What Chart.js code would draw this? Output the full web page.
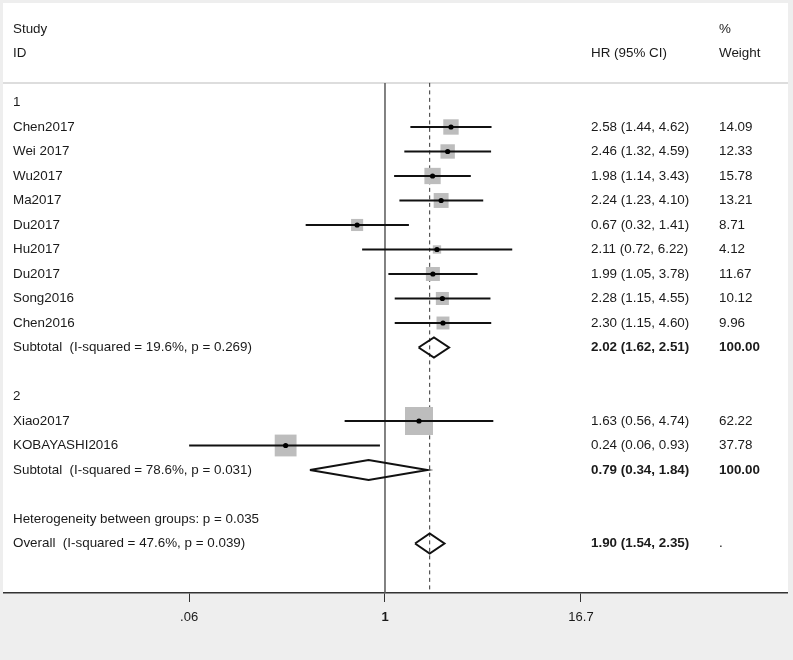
<!DOCTYPE html>
<html>
<head>
<meta charset="utf-8">
<script src="https://cdn.jsdelivr.net/npm/chart.js@4/dist/chart.umd.min.js"></script>
<style>
  html, body { margin: 0; padding: 0; background: #eeeeee; }
  canvas { display: block; }
</style>
</head>
<body>
<canvas id="forest" width="793" height="660"></canvas>
<script>
// datos del forest plot (HR con IC 95%)
const groupNames = ['1', '2'];
const studies = ['Chen2017', 'Wei 2017', 'Wu2017', 'Ma2017', 'Du2017', 'Hu2017', 'Du2017', 'Song2016', 'Chen2016', 'Xiao2017', 'KOBAYASHI2016'];
const studyGroup = [0, 0, 0, 0, 0, 0, 0, 0, 0, 1, 1];
const hr = [2.58, 2.46, 1.98, 2.24, 0.67, 2.11, 1.99, 2.28, 2.30, 1.63, 0.24];
const lower = [1.44, 1.32, 1.14, 1.23, 0.32, 0.72, 1.05, 1.15, 1.15, 0.56, 0.06];
const upper = [4.62, 4.59, 3.43, 4.10, 1.41, 6.22, 3.78, 4.55, 4.60, 4.74, 0.93];
const weight = [14.09, 12.33, 15.78, 13.21, 8.71, 4.12, 11.67, 10.12, 9.96, 62.22, 37.78];

const subHr = [2.02, 0.79];
const subLower = [1.62, 0.34];
const subUpper = [2.51, 1.84];
const subI2 = ['19.6', '78.6'];
const subP = ['0.269', '0.031'];

const overallHr = 1.90;
const overallLower = 1.54;
const overallUpper = 2.35;
const overallI2 = '47.6';
const overallP = '0.039';
const heterogeneityP = '0.035';

const xTicks = [0.06, 1, 16.7];
const xTickLabels = ['.06', '1', '16.7'];

(function() {
    const fmt = (e, l, u) => `${e.toFixed(2)} (${l.toFixed(2)}, ${u.toFixed(2)})`;

    // se arma la lista de filas (texto + marcas) en orden
    const texts = [];
    const boxes = [];
    const cis = [];
    const diamonds = [];
    // escala del cuadrado por grupo (ancho en px por raiz del peso)
    const boxScale = [4.1, 3.55];

    texts.push({ row: 0, col: 'id', text: 'Study' });
    texts.push({ row: 1, col: 'id', text: 'ID' });
    texts.push({ row: 0, col: 'w', text: '%' });
    texts.push({ row: 1, col: 'hr', text: 'HR (95% CI)' });
    texts.push({ row: 1, col: 'w', text: 'Weight' });

    let row = 3;
    groupNames.forEach((g, gi) => {
        texts.push({ row: row, col: 'id', text: g });
        row++;
        studies.forEach((s, i) => {
            if (studyGroup[i] !== gi) return;
            texts.push({ row: row, col: 'id', text: s });
            texts.push({ row: row, col: 'hr', text: fmt(hr[i], lower[i], upper[i]) });
            texts.push({ row: row, col: 'w', text: weight[i].toFixed(2) });
            boxes.push({ x: hr[i], y: row, side: boxScale[gi] * Math.sqrt(weight[i]) });
            cis.push({ lo: lower[i], hi: upper[i], y: row });
            row++;
        });
        texts.push({ row: row, col: 'id', text: `Subtotal  (I-squared = ${subI2[gi]}%, p = ${subP[gi]})` });
        texts.push({ row: row, col: 'hr', text: fmt(subHr[gi], subLower[gi], subUpper[gi]), bold: true });
        texts.push({ row: row, col: 'w', text: '100.00', bold: true });
        diamonds.push({ lo: subLower[gi], est: subHr[gi], hi: subUpper[gi], y: row });
        row += 2;
    });
    texts.push({ row: row, col: 'id', text: `Heterogeneity between groups: p = ${heterogeneityP}` });
    row++;
    texts.push({ row: row, col: 'id', text: `Overall  (I-squared = ${overallI2}%, p = ${overallP})` });
    texts.push({ row: row, col: 'hr', text: fmt(overallHr, overallLower, overallUpper), bold: true });
    texts.push({ row: row, col: 'w', text: '.' });
    diamonds.push({ lo: overallLower, est: overallHr, hi: overallUpper, y: row });

    const topRow = -1.06;
    const bottomRow = 23.02;
    const lineTop = 2.2;
    const dh = 0.41;

    const datasets = [];

    // linea nula (HR = 1) y linea del efecto global
    datasets.push({
        data: [{ x: 1, y: lineTop }, { x: 1, y: bottomRow }],
        showLine: true, borderColor: '#5a5a5a', borderWidth: 1.5, pointRadius: 0, order: 20
    });
    datasets.push({
        data: [{ x: overallHr, y: lineTop }, { x: overallHr, y: bottomRow }],
        showLine: true, borderColor: '#333333', borderWidth: 1, borderDash: [4, 3.5], pointRadius: 0, order: 20
    });

    // cuadrados grises segun el peso
    datasets.push({
        data: boxes.map(b => ({ x: b.x, y: b.y })),
        pointStyle: 'rect',
        pointRadius: boxes.map(b => b.side / Math.SQRT2),
        backgroundColor: '#bdbdbd',
        borderWidth: 0,
        order: 10
    });

    // intervalos de confianza
    cis.forEach(c => {
        datasets.push({
            data: [{ x: c.lo, y: c.y }, { x: c.hi, y: c.y }],
            showLine: true, borderColor: '#111111', borderWidth: 2, pointRadius: 0, order: 5
        });
    });

    // punto central
    datasets.push({
        data: boxes.map(b => ({ x: b.x, y: b.y })),
        pointStyle: 'circle', pointRadius: 2.6, backgroundColor: '#000000', borderWidth: 0, order: 1
    });

    // rombos de subtotales y global
    diamonds.forEach(d => {
        datasets.push({
            data: [
                { x: d.lo, y: d.y }, { x: d.est, y: d.y - dh }, { x: d.hi, y: d.y },
                { x: d.est, y: d.y + dh }, { x: d.lo, y: d.y }
            ],
            showLine: true, borderColor: '#111111', borderWidth: 2, pointRadius: 0,
            borderJoinStyle: 'miter', order: 2
        });
    });

    const colX = { id: 13, hr: 591, w: 719 };
    const font = '13.4px "Liberation Sans", Arial, sans-serif';

    const forestPlugin = {
        id: 'forestDecor',
        beforeDraw(chart) {
            const ctx = chart.ctx;
            const area = chart.chartArea;
            ctx.save();
            ctx.fillStyle = '#eeeeee';
            ctx.fillRect(0, 0, chart.width, chart.height);
            ctx.fillStyle = '#ffffff';
            ctx.fillRect(area.left - 1, area.top, area.right - area.left + 2, area.bottom - area.top);
            // separador de encabezado
            const ySep = chart.scales.y.getPixelForValue(lineTop);
            ctx.strokeStyle = '#d2d2d2';
            ctx.lineWidth = 1.5;
            ctx.beginPath();
            ctx.moveTo(area.left - 1, ySep);
            ctx.lineTo(area.right + 1, ySep);
            ctx.stroke();
            ctx.restore();
        },
        afterDraw(chart) {
            const ctx = chart.ctx;
            const ys = chart.scales.y;
            ctx.save();
            ctx.textBaseline = 'middle';
            ctx.fillStyle = '#1a1a1a';
            texts.forEach(t => {
                ctx.font = (t.bold ? 'bold ' : '') + font;
                ctx.fillText(t.text, colX[t.col], ys.getPixelForValue(t.row));
            });
            ctx.restore();
        }
    };

    new Chart(document.getElementById('forest'), {
        type: 'scatter',
        data: { datasets: datasets },
        options: {
            responsive: false,
            animation: false,
            layout: { autoPadding: false, padding: { left: 4, right: 6, top: 3, bottom: 0 } },
            plugins: { legend: { display: false }, tooltip: { enabled: false } },
            scales: {
                x: {
                    type: 'logarithmic',
                    bounds: 'data',
                    min: 0.0042,
                    max: 322,
                    afterBuildTicks: s => { s.ticks = xTicks.map(v => ({ value: v })); },
                    afterFit: s => { s.height = 67; },
                    grid: { display: true, drawOnChartArea: false, drawTicks: true, tickLength: 9, color: '#333333', lineWidth: 1 },
                    border: { display: true, color: '#333333', width: 1.5 },
                    ticks: {
                        padding: 8,
                        color: '#1a1a1a',
                        maxRotation: 0,
                        autoSkip: false,
                        font: c => ({ family: '"Liberation Sans", Arial, sans-serif', size: 13, weight: (c.tick && c.tick.value === 1) ? 'bold' : 'normal' }),
                        callback: (v, i) => xTickLabels[i]
                    }
                },
                y: {
                    display: false,
                    reverse: true,
                    min: topRow,
                    max: bottomRow
                }
            }
        },
        plugins: [forestPlugin]
    });
})();
</script>
</body>
</html>
